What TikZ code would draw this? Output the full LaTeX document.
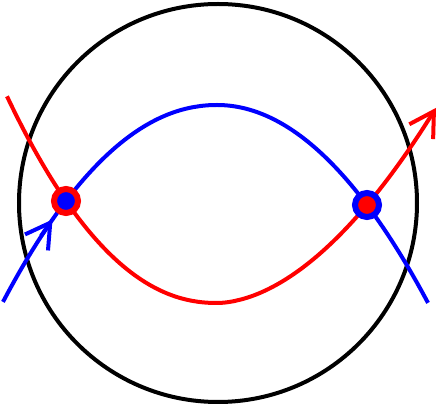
\documentclass[tikz,border=0pt]{standalone}
\usetikzlibrary{arrows.meta}
\begin{document}
\begin{tikzpicture}[x=1pt,y=1pt,
  curve/.style={line width=4pt},
  barb/.style={-{Straight Barb[length=24pt,width=28pt,line width=4pt]}},
  dotnode/.style={circle,line width=6pt,minimum size=24pt,inner sep=0pt}]
\useasboundingbox (0,0) rectangle (437,407);
% big circle
\coordinate (c0) at (218,204);
\draw[curve,black] (c0) circle[radius=199];
% blue curve
\draw[curve,blue]
  plot[domain=3:216.9,samples=80] (\x,{302-94.7*pow((217-\x)/150,2.06)})
  -- plot[domain=217.1:428,samples=80] (\x,{302-100*pow((\x-217)/150,2.0)});
% red curve with arrow
\draw[curve,red,barb]
  plot[domain=7:216.9,samples=80] (\x,{104+100.6*pow((217-\x)/150,2.14)})
  -- plot[domain=217.1:436,samples=80] (\x,{104+98*pow((\x-217)/150,1.82)});
% blue mid arrow
\coordinate (ba) at (41,171);
\coordinate (bt) at (52.5,187.5);
\draw[curve,blue,barb] (ba) -- (bt);
% crossing dots
\node[dotnode,draw=red,fill=blue] (left) at (66,206) {};
\node[dotnode,draw=blue,fill=red] (right) at (367,202) {};
\end{tikzpicture}
\end{document}
